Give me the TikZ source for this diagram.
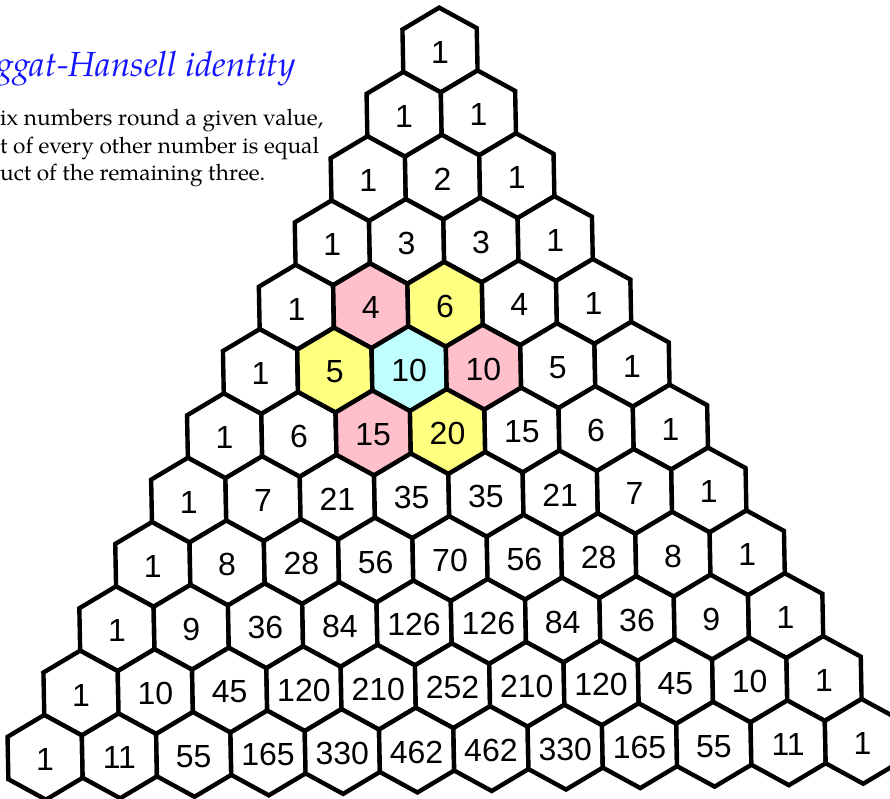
\documentclass[tikz,border=0pt]{standalone}
\usepackage{fontspec}
\setmainfont{TeX Gyre Pagella}
\newfontfamily\numfont{Liberation Sans}
\definecolor{cellpink}{RGB}{255,191,203}
\definecolor{cellyellow}{RGB}{255,255,128}
\definecolor{cellcyan}{RGB}{191,255,255}
\definecolor{titleblue}{RGB}{20,20,255}
\tikzset{
  hexcell/.style={draw=black, line width=4.4pt, fill=white},
  pinkcell/.style={hexcell, fill=cellpink},
  yellowcell/.style={hexcell, fill=cellyellow},
  cyancell/.style={hexcell, fill=cellcyan},
  numlabel/.style={font=\numfont\fontsize{32}{32}\selectfont, inner sep=0pt, yshift=-2pt},
  bodyline/.style={anchor=base west, inner sep=0pt, font=\fontsize{22.6}{27}\selectfont},
  titleline/.style={anchor=base east, inner sep=0pt, text=titleblue, font=\itshape\fontsize{34.8}{38}\selectfont}
}
\newcommand\hexat[3]{\path[#3] (#2+2/3,#1+1/3) -- (#2+1/3,#1+2/3) -- (#2-1/3,#1+1/3) -- (#2-2/3,#1-1/3) -- (#2-1/3,#1-2/3) -- (#2+1/3,#1-1/3) -- cycle;}
\begin{document}
\begin{tikzpicture}[x=1pt,y=1pt]
\useasboundingbox (0,0) rectangle (890,-798);
\clip (0,0) rectangle (890,-798);
\fill[white] (0,0) rectangle (890,-798);
% text
\node[titleline] (title) at (296,-76) {ggat-Hansell identity};
\node[bodyline] (l1) at (0,-125) {ix numbers round a given value,};
\node[bodyline] (l2) at (0,-153) {t of every other number is equal};
\node[bodyline] (l3) at (0,-180) {uct of the remaining three.};
% triangle
\begin{scope}[shift={(440,-50)}, x={(74.3pt,1.45pt)}, y={(-35.9pt,-64.3pt)}]
\foreach \r in {0,...,11}{
  \foreach \k in {0,...,\r}{
    \hexat{\r}{\k}{hexcell}
  }
}
\hexat{4}{1}{pinkcell}
\hexat{4}{2}{yellowcell}
\hexat{5}{1}{yellowcell}
\hexat{5}{2}{cyancell}
\hexat{5}{3}{pinkcell}
\hexat{6}{2}{pinkcell}
\hexat{6}{3}{yellowcell}
\foreach \r/\vals in {
  0/{1},
  1/{1,1},
  2/{1,2,1},
  3/{1,3,3,1},
  4/{1,4,6,4,1},
  5/{1,5,10,10,5,1},
  6/{1,6,15,20,15,6,1},
  7/{1,7,21,35,35,21,7,1},
  8/{1,8,28,56,70,56,28,8,1},
  9/{1,9,36,84,126,126,84,36,9,1},
  10/{1,10,45,120,210,252,210,120,45,10,1},
  11/{1,11,55,165,330,462,462,330,165,55,11,1}}{
  \foreach \v [count=\c from 0] in \vals {
    \node[numlabel] (n-\r-\c) at (\c,\r) {\v};
  }
}
\end{scope}
\end{tikzpicture}
\end{document}
